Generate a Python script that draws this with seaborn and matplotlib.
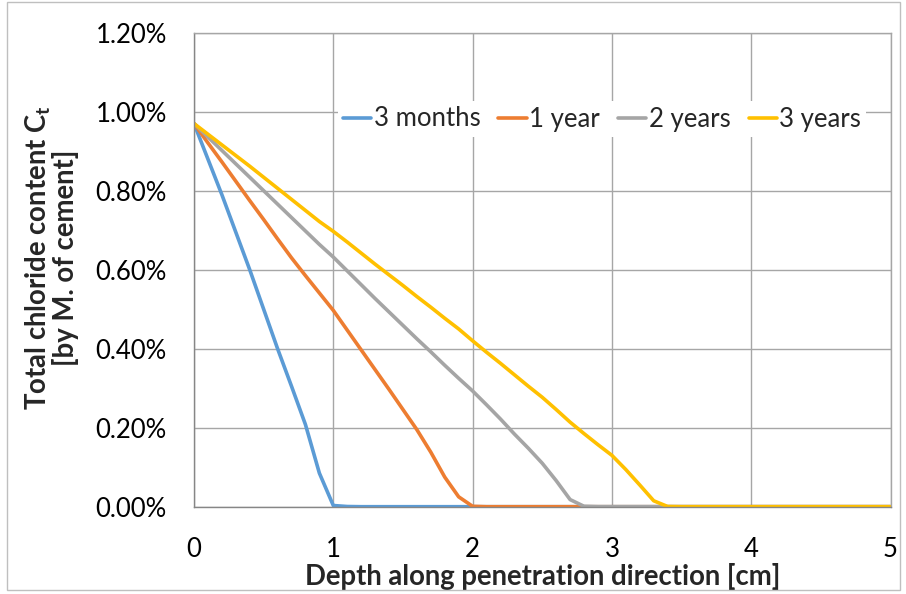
import numpy as np
import pandas as pd
import matplotlib
matplotlib.use("Agg")
import matplotlib.pyplot as plt
from matplotlib.ticker import PercentFormatter, MultipleLocator
from matplotlib.patches import Rectangle
import seaborn as sns

# Depth grid [cm] shared by all profiles
depth = [round(0.1 * i, 1) for i in range(51)]

# Total chloride content [% by mass of cement]
months_3 = [0.970, 0.880, 0.790, 0.695, 0.600, 0.500, 0.400, 0.305, 0.208, 0.085,
            0.003, 0.0005] + [0.0] * 39
year_1 = [0.970, 0.921, 0.873, 0.824, 0.775, 0.727, 0.678, 0.630, 0.585, 0.541,
          0.497, 0.447, 0.397, 0.347, 0.297, 0.246, 0.195, 0.138, 0.075, 0.025,
          0.001] + [0.0] * 30
years_2 = [0.970, 0.936, 0.902, 0.868, 0.834, 0.800, 0.766, 0.732, 0.698, 0.664,
           0.632, 0.597, 0.562, 0.527, 0.493, 0.459, 0.425, 0.392, 0.358, 0.325,
           0.293, 0.258, 0.222, 0.184, 0.148, 0.110, 0.066, 0.018, 0.001] + [0.0] * 22
years_3 = [0.970, 0.943, 0.916, 0.889, 0.862, 0.834, 0.806, 0.778, 0.750, 0.722,
           0.697, 0.670, 0.642, 0.614, 0.587, 0.560, 0.532, 0.505, 0.477, 0.450,
           0.420, 0.391, 0.363, 0.334, 0.305, 0.277, 0.246, 0.214, 0.185, 0.157,
           0.130, 0.094, 0.055, 0.015, 0.0005] + [0.0] * 16

series_names = ["3 months", "1 year", "2 years", "3 years"]
series_values = [months_3, year_1, years_2, years_3]
colors = ["#5B9BD5", "#ED7D31", "#A5A5A5", "#FFC000"]

df = pd.concat(
    [pd.DataFrame({"depth": depth, "content": vals, "series": name})
     for name, vals in zip(series_names, series_values)],
    ignore_index=True,
)

sns.set_style("white")
plt.rcParams["font.family"] = ["Lato", "DejaVu Sans"]
plt.rcParams["mathtext.fontset"] = "custom"
plt.rcParams["mathtext.rm"] = "Lato:bold"
plt.rcParams["mathtext.it"] = "Lato:bold"
plt.rcParams["mathtext.bf"] = "Lato:bold"

W, H = 906, 594
fig = plt.figure(figsize=(W / 100, H / 100), dpi=100)
ax = fig.add_axes([194 / W, 1 - 506.7 / H, 696.5 / W, 474 / H])

grid_c = "#A6A6A6"
axis_c = "#868686"

sns.lineplot(data=df, x="depth", y="content", hue="series", hue_order=series_names,
             palette=colors, estimator=None, sort=True, linewidth=2.6, ax=ax,
             legend=False)

ax.set_xlim(0, 5)
ax.set_ylim(0, 1.2)
ax.xaxis.set_major_locator(MultipleLocator(1))
ax.yaxis.set_major_locator(MultipleLocator(0.2))
ax.yaxis.set_major_formatter(PercentFormatter(xmax=100, decimals=2))

ax.grid(True, color=grid_c, linewidth=1.0)
ax.set_axisbelow(True)
for side in ["top", "right"]:
    ax.spines[side].set_color(grid_c)
    ax.spines[side].set_linewidth(1.0)
for side in ["left", "bottom"]:
    ax.spines[side].set_color(axis_c)
    ax.spines[side].set_linewidth(1.0)

ax.tick_params(axis="both", which="major", direction="in", length=6, width=1,
               color=axis_c, labelsize=18.5, labelcolor="black")
ax.tick_params(axis="y", pad=19.5)
ax.tick_params(axis="x", pad=22)

ax.set_xlabel("Depth along penetration direction [cm]", fontsize=19.8,
              fontweight="bold")
ax.xaxis.set_label_coords(0.5, -0.118)
ax.set_ylabel("Total chloride content C$_{t}$\n[by M. of cement]", fontsize=19.8,
              fontweight="bold", linespacing=0.95)
ax.yaxis.set_label_coords(-0.165, 0.525)

handles = [plt.Line2D([], [], color=c, linewidth=2.6) for c in colors]
leg = ax.legend(handles, series_names, loc="center", ncol=4,
                bbox_to_anchor=(602 / W, 1 - 119 / H),
                bbox_transform=fig.transFigure, fontsize=18.5, frameon=True,
                framealpha=1, facecolor="white", edgecolor="none",
                handlelength=1.1, handletextpad=0.1, columnspacing=0.7,
                borderpad=0.2, fancybox=False)

fig.add_artist(Rectangle((7 / W, 1 - 590 / H), 893 / W, 588 / H,
                         transform=fig.transFigure, fill=False,
                         edgecolor="#BFBFBF", linewidth=1.0))

fig.savefig("out.png", dpi=100)
